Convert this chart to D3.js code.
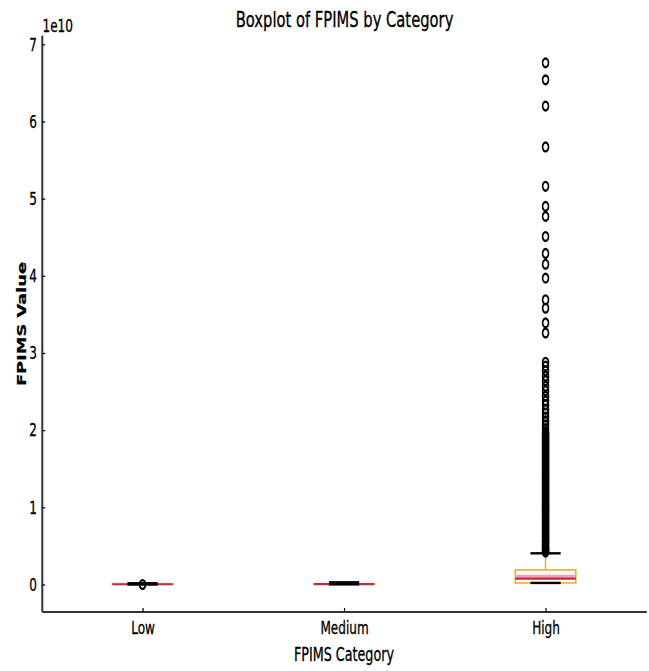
<!DOCTYPE html>
<html>
<head>
<meta charset="utf-8">
<script src="https://cdn.jsdelivr.net/npm/d3@7"></script>
<style>
  body { margin: 0; background: #fff; }
  text { font-family: "DejaVu Sans", sans-serif; fill: #000; stroke: #000; stroke-width: 0.35; }
</style>
</head>
<body>
<div id="chart"></div>
<script>
// box statistics per category (FPIMS values)
var categories = ["Low", "Medium", "High"]
var whiskerLow  = [0.000e10, 0.002e10, 0.020e10]
var q1          = [0.002e10, 0.004e10, 0.020e10]
var medians     = [0.003e10, 0.006e10, 0.075e10]
var q3          = [0.004e10, 0.008e10, 0.188e10]
var whiskerHigh = [0.016e10, 0.028e10, 0.404e10]

// outliers
var lowFliers = [0.000e10]
var mediumFliers = []
var highFliers = [
  6.76e10, 6.54e10, 6.20e10, 5.67e10, 5.16e10, 4.90e10, 4.77e10, 4.51e10,
  4.29e10, 4.15e10, 3.97e10, 3.69e10, 3.58e10, 3.39e10, 3.26e10,
  2.88e10, 2.83e10, 2.77e10, 2.70e10, 2.64e10, 2.57e10, 2.51e10, 2.44e10,
  2.38e10, 2.33e10, 2.27e10, 2.22e10, 2.17e10, 2.12e10, 2.07e10, 2.02e10,
  1.98e10, 1.96e10, 1.94e10, 1.92e10, 1.91e10, 1.89e10, 1.87e10, 1.85e10,
  1.83e10, 1.81e10, 1.80e10, 1.78e10, 1.76e10, 1.74e10, 1.72e10, 1.70e10,
  1.69e10, 1.67e10, 1.65e10, 1.63e10, 1.61e10, 1.60e10, 1.58e10, 1.56e10,
  1.55e10, 1.53e10, 1.51e10, 1.49e10, 1.47e10, 1.45e10, 1.44e10, 1.42e10,
  1.41e10, 1.39e10, 1.37e10, 1.35e10, 1.33e10, 1.31e10, 1.30e10, 1.28e10,
  1.26e10, 1.24e10, 1.22e10, 1.20e10, 1.19e10, 1.17e10, 1.15e10, 1.13e10,
  1.12e10, 1.10e10, 1.08e10, 1.06e10, 1.04e10, 1.02e10, 1.01e10, 0.99e10,
  0.98e10, 0.96e10, 0.94e10, 0.92e10, 0.90e10, 0.88e10, 0.87e10, 0.85e10,
  0.84e10, 0.82e10, 0.80e10, 0.78e10, 0.76e10, 0.74e10, 0.73e10, 0.71e10,
  0.69e10, 0.67e10, 0.65e10, 0.63e10, 0.62e10, 0.60e10, 0.58e10, 0.56e10,
  0.55e10, 0.53e10, 0.51e10, 0.49e10, 0.47e10, 0.46e10, 0.45e10, 0.43e10,
  0.42e10
]
var fliers = [lowFliers, mediumFliers, highFliers]

var yTicks = [0, 1e10, 2e10, 3e10, 4e10, 5e10, 6e10, 7e10]

// the picture is squeezed horizontally
var SX = 0.67

var width = 649, height = 671

var svg = d3.select("#chart").append("svg")
    .attr("width", width)
    .attr("height", height)

var x = d3.scalePoint().domain(categories).range([41.8, 646.3]).padding(0.5)
var y = d3.scaleLinear().domain([-0.35e10, 7.121e10]).range([611.5, 35])

var boxW = x.step() * 0.3
var capW = boxW / 2

var boxes = categories.map(function (c, i) {
  return { cat: c, lo: whiskerLow[i], q1: q1[i], med: medians[i], q3: q3[i], hi: whiskerHigh[i], fliers: fliers[i] }
})

var g = svg.selectAll("g.box")
  .data(boxes)
  .enter().append("g")
  .attr("class", "box")
  .attr("transform", function (d) { return "translate(" + x(d.cat) + ",0)" })

// whiskers
g.append("line")
  .attr("x1", 0).attr("x2", 0)
  .attr("y1", function (d) { return y(d.q3) })
  .attr("y2", function (d) { return y(d.hi) })
  .attr("stroke", "#eeaa2e").attr("stroke-width", 1.5)
g.append("line")
  .attr("x1", 0).attr("x2", 0)
  .attr("y1", function (d) { return y(d.q1) })
  .attr("y2", function (d) { return y(d.lo) })
  .attr("stroke", "#eeaa2e").attr("stroke-width", 1.5)

// box
g.append("rect")
  .attr("x", -boxW / 2)
  .attr("width", boxW)
  .attr("y", function (d) { return y(d.q3) })
  .attr("height", function (d) { return y(d.q1) - y(d.q3) })
  .attr("fill", "#fff")
  .attr("stroke", "#eeaa2e")
  .attr("stroke-width", 1.6)

// pink band just above the median
g.append("rect")
  .attr("x", -boxW / 2 + 1)
  .attr("width", boxW - 2)
  .attr("y", function (d) { return Math.max(y(d.q3) + 1, y(d.med) - 4) })
  .attr("height", function (d) { return Math.max(0, y(d.med) - Math.max(y(d.q3) + 1, y(d.med) - 4)) })
  .attr("fill", "#f3a3b0")

// median
g.append("line")
  .attr("x1", -boxW / 2).attr("x2", boxW / 2)
  .attr("y1", function (d) { return y(d.med) })
  .attr("y2", function (d) { return y(d.med) })
  .attr("stroke", "#c62840").attr("stroke-width", 2.2)

// caps
g.append("line")
  .attr("x1", -capW / 2).attr("x2", capW / 2)
  .attr("y1", function (d) { return y(d.hi) })
  .attr("y2", function (d) { return y(d.hi) })
  .attr("stroke", "#000").attr("stroke-width", 2.4)
g.append("line")
  .attr("x1", -capW / 2).attr("x2", capW / 2)
  .attr("y1", function (d) { return y(d.lo) })
  .attr("y2", function (d) { return y(d.lo) })
  .attr("stroke", "#000").attr("stroke-width", 2.4)

// outliers
g.selectAll("g.flier")
  .data(function (d) { return d.fliers })
  .enter().append("g")
  .attr("class", "flier")
  .attr("transform", function (v) { return "translate(0," + y(v) + ") scale(" + SX + ",1)" })
  .append("circle")
  .attr("r", 4.4)
  .attr("fill", "none")
  .attr("stroke", "#000")
  .attr("stroke-width", 2.4)

// axes
var yAxis = d3.axisLeft(y)
  .tickValues(yTicks)
  .tickFormat(function (d) { return d / 1e10 })
  .tickSizeInner(-3.5)
  .tickSizeOuter(0)
  .tickPadding(5)

var yg = svg.append("g").attr("class", "axis y-axis")
  .attr("transform", "translate(41.8,0)")
  .call(yAxis)

var xAxis = d3.axisBottom(x)
  .tickSizeInner(-3.5)
  .tickSizeOuter(0)
  .tickPadding(10)

var xg = svg.append("g").attr("class", "axis x-axis")
  .attr("transform", "translate(0,611.5)")
  .call(xAxis)

svg.selectAll(".axis .domain").attr("stroke", "#333").attr("stroke-width", 2)
svg.selectAll(".axis .tick line").attr("stroke", "#000").attr("stroke-width", 1.2)
svg.selectAll(".axis text").attr("font-size", 18).attr("font-family", "DejaVu Sans")
  .attr("fill", "#000").attr("stroke", "#000").attr("stroke-width", 0.35)
yg.selectAll("text").attr("x", -5 / SX).attr("transform", "scale(" + SX + ",1)")
xg.selectAll("text").attr("transform", "scale(" + SX + ",1)")

function label (px, py, txt, size, anchor, weight) {
  return svg.append("text")
    .attr("transform", "translate(" + px + "," + py + ") scale(" + SX + ",1)")
    .attr("text-anchor", anchor)
    .attr("font-size", size)
    .attr("font-weight", weight || "normal")
    .text(txt)
}

label(344.5, 27, "Boxplot of FPIMS by Category", 22, "middle")
label(42.5, 31.5, "1e10", 18, "start")
label(344, 661, "FPIMS Category", 19, "middle")

svg.append("text")
  .attr("transform", "translate(25.5,324) scale(" + SX + ",1) rotate(-90)")
  .attr("text-anchor", "middle")
  .attr("font-size", 17.8)
  .attr("font-weight", "bold")
  .text("FPIMS Value")
</script>
</body>
</html>
